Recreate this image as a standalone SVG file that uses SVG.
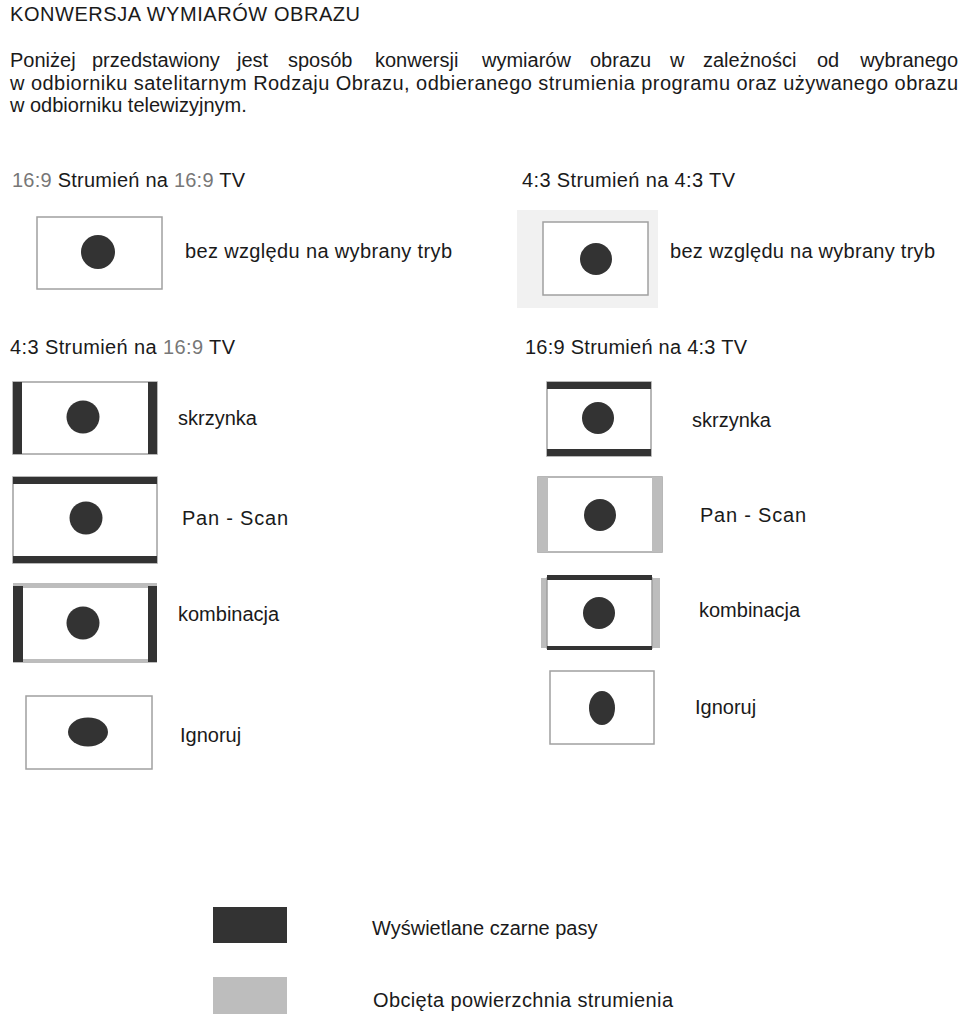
<svg xmlns="http://www.w3.org/2000/svg" width="960" height="1022" viewBox="0 0 960 1022">
<style>
text{font-family:"Liberation Sans",Arial,sans-serif;font-size:20px;fill:#1a1a1a}
.g{fill:#777}
.frame{fill:#fff;stroke:#a0a0a0;stroke-width:1.5}
.blk{fill:#333}
.crop{fill:#bdbdbd}
.dot{fill:#333}
</style>
<rect width="960" height="1022" fill="#fff"/>
<g id="header">
<text x="10" y="21" textLength="350" lengthAdjust="spacing">KONWERSJA WYMIARÓW OBRAZU</text>
<text y="67"><tspan x="10">Poniżej</tspan><tspan x="92">przedstawiony</tspan><tspan x="237">jest</tspan><tspan x="288">sposób</tspan><tspan x="375">konwersji</tspan><tspan x="482">wymiarów</tspan><tspan x="590">obrazu</tspan><tspan x="670">w</tspan><tspan x="703">zależności</tspan><tspan x="817">od</tspan></text>
<text x="958" y="67" text-anchor="end">wybranego</text>
<text x="10" y="90" textLength="948" lengthAdjust="spacing">w odbiorniku satelitarnym Rodzaju Obrazu, odbieranego strumienia programu oraz używanego obrazu</text>
<text x="10" y="112">w odbiorniku telewizyjnym.</text>
</g>
<g id="sec-169-on-169">
<text x="12" y="187" textLength="233" lengthAdjust="spacing"><tspan class="g">16:9</tspan> Strumień na <tspan class="g">16:9</tspan> TV</text>
<rect class="frame" x="37" y="217" width="125" height="72"/>
<circle class="dot" cx="98" cy="252" r="17"/>
<text x="185" y="258" textLength="267" lengthAdjust="spacing">bez względu na wybrany tryb</text>
</g>
<g id="sec-43-on-43">
<text x="522" y="187" textLength="213" lengthAdjust="spacing">4:3 Strumień na 4:3 TV</text>
<rect x="517" y="210" width="141" height="98" fill="#f1f1f1"/>
<rect class="frame" x="543" y="222" width="105" height="73" fill="#fafafa"/>
<circle class="dot" cx="596" cy="259" r="16"/>
<text x="670" y="258" textLength="265" lengthAdjust="spacing">bez względu na wybrany tryb</text>
</g>
<g id="sec-43-on-169-title">
<text x="10" y="354" textLength="225" lengthAdjust="spacing">4:3 Strumień na <tspan class="g">16:9</tspan> TV</text>
</g>
<g id="sec-169-on-43-title">
<text x="525" y="354" textLength="222" lengthAdjust="spacing">16:9 Strumień na 4:3 TV</text>
</g>
<g id="l-skrzynka">
<rect class="frame" x="13" y="382" width="144" height="72"/>
<rect class="blk" x="13" y="382" width="9" height="72"/>
<rect class="blk" x="148" y="382" width="9" height="72"/>
<circle class="dot" cx="83" cy="417" r="16.5"/>
<text x="178" y="425">skrzynka</text>
</g>
<g id="l-panscan">
<rect class="frame" x="13" y="477" width="144" height="86"/>
<rect class="blk" x="13" y="477" width="144" height="7"/>
<rect class="blk" x="13" y="556" width="144" height="7"/>
<circle class="dot" cx="86" cy="518" r="16.5"/>
<text x="182" y="525" textLength="106" lengthAdjust="spacing">Pan - Scan</text>
</g>
<g id="l-kombinacja">
<rect class="crop" x="13" y="583" width="144" height="80"/>
<rect x="23" y="588" width="125" height="71" fill="#fff"/>
<rect class="blk" x="13" y="586" width="10" height="76"/>
<rect class="blk" x="148" y="586" width="9" height="76"/>
<circle class="dot" cx="83" cy="623" r="16.5"/>
<text x="178" y="621">kombinacja</text>
</g>
<g id="l-ignoruj">
<rect class="frame" x="26" y="696" width="126" height="73"/>
<ellipse class="dot" cx="88" cy="732" rx="20" ry="14.5"/>
<text x="180" y="742">Ignoruj</text>
</g>
<g id="r-skrzynka">
<rect class="frame" x="547" y="382" width="104" height="74"/>
<rect class="blk" x="547" y="382" width="104" height="7"/>
<rect class="blk" x="547" y="449" width="104" height="7"/>
<circle class="dot" cx="598" cy="418" r="16"/>
<text x="692" y="427">skrzynka</text>
</g>
<g id="r-panscan">
<rect class="frame" x="538" y="477" width="124" height="75"/>
<rect class="crop" x="538" y="477" width="10" height="75"/>
<rect class="crop" x="652" y="477" width="10" height="75"/>
<circle class="dot" cx="600" cy="515" r="16"/>
<text x="700" y="522" textLength="106" lengthAdjust="spacing">Pan - Scan</text>
</g>
<g id="r-kombinacja">
<rect class="crop" x="541" y="578" width="6" height="70"/>
<rect class="crop" x="652" y="578" width="8" height="70"/>
<rect class="frame" x="547" y="578" width="105" height="70"/>
<rect class="blk" x="547" y="575" width="105" height="5"/>
<rect class="blk" x="547" y="646" width="105" height="4"/>
<circle class="dot" cx="599" cy="613" r="16"/>
<text x="699" y="617">kombinacja</text>
</g>
<g id="r-ignoruj">
<rect class="frame" x="550" y="671" width="104" height="73"/>
<ellipse class="dot" cx="602" cy="708" rx="13" ry="17"/>
<text x="695" y="714">Ignoruj</text>
</g>
<g id="legend">
<rect class="blk" x="213" y="907" width="74" height="36"/>
<text x="372" y="935">Wyświetlane czarne pasy</text>
<rect class="crop" x="213" y="977" width="74" height="37"/>
<text x="373" y="1007" textLength="300" lengthAdjust="spacing">Obcięta powierzchnia strumienia</text>
</g>
<g id="connectors"/>
</svg>
